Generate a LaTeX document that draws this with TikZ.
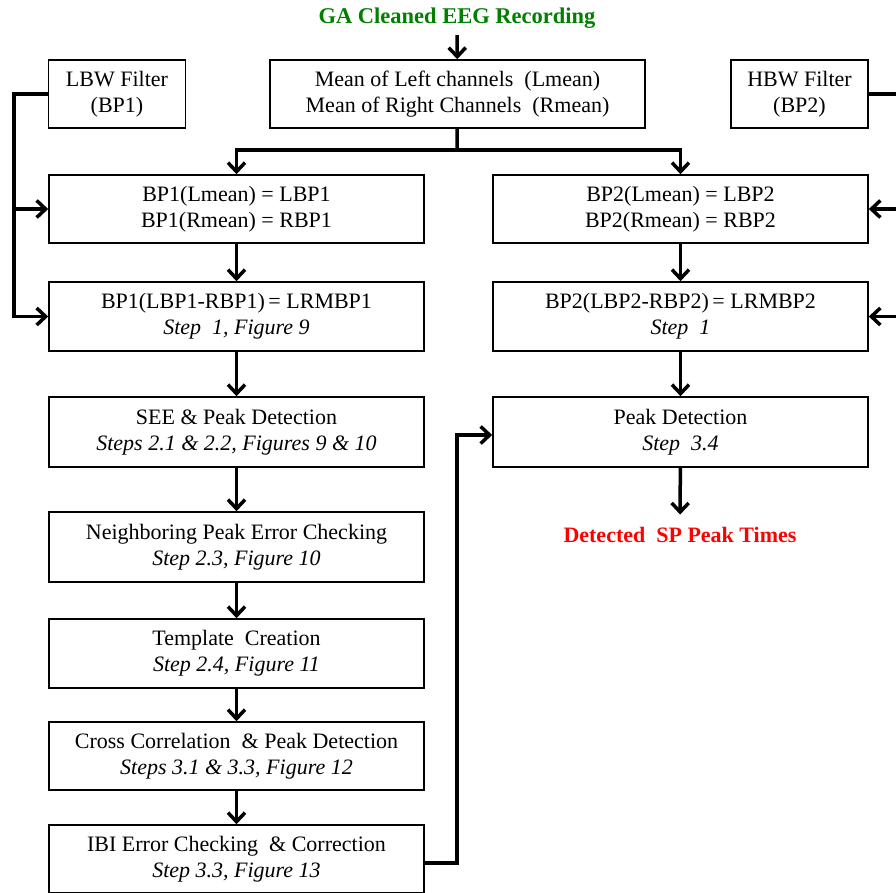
\documentclass[tikz,border=0pt]{standalone}
\usepackage{fontspec}
\setmainfont{Liberation Serif}
\usetikzlibrary{arrows.meta}
\definecolor{titlegreen}{RGB}{0,128,0}
\definecolor{resultred}{RGB}{255,0,0}
\begin{document}
\begin{tikzpicture}[x=1pt,y=-1pt,
  box/.style={draw, line width=1.6pt, minimum width=375pt, minimum height=68pt,
    align=center, inner sep=0pt, font=\fontsize{22}{26}\selectfont},
  filterbox/.style={box, minimum width=137pt},
  conn/.style={line width=3.5pt, -{Straight Barb[length=9pt,width=17pt]}},
  plain/.style={line width=3.5pt},
  label/.style={font=\fontsize{22.5}{26}\selectfont\bfseries, inner xsep=2pt, inner ysep=7pt}]
\useasboundingbox (0,0) rectangle (896,892);
\clip (0,0) rectangle (896,892);

% title and result
\node[label, text=titlegreen, anchor=base] (title) at (457,23) {GA Cleaned EEG Recording};
\node[label, text=resultred, anchor=base, inner ysep=12pt, font=\fontsize{22}{26}\selectfont\bfseries] (detected) at (680,542) {Detected\ \ SP Peak Times};

% top row
\node[filterbox] (lbw) at (117,94) {LBW Filter\\(BP1)};
\node[box] (mean) at (457.5,94) {Mean of Left channels\ \ (Lmean)\\Mean of Right Channels\ \ (Rmean)};
\node[filterbox] (hbw) at (799.5,94) {HBW Filter\\(BP2)};

% left column
\node[box] (bp1a) at (236.5,209) {BP1(Lmean) = LBP1\\BP1(Rmean) = RBP1};
\node[box, minimum height=69pt] (bp1b) at (236.5,316.5) {BP1(LBP1-RBP1)\,= LRMBP1\\\textit{Step\ \ 1, Figure 9}};
\node[box, minimum height=70pt] (see) at (236.5,432) {SEE \& Peak Detection\\\textit{Steps 2.1 \& 2.2, Figures 9 \& 10}};
\node[box, minimum height=70pt] (nbr) at (236.5,547) {Neighboring Peak Error Checking\\\textit{Step 2.3, Figure 10}};
\node[box, minimum height=69pt] (tmpl) at (236.5,653.5) {Template\ \ Creation\\\textit{Step 2.4, Figure 11}};
\node[box] (cross) at (236.5,756) {Cross Correlation\ \ \& Peak Detection\\\textit{Steps 3.1 \& 3.3, Figure 12}};
\node[box] (ibi) at (236.5,859) {IBI Error Checking\ \ \& Correction\\\textit{Step 3.3, Figure 13}};

% right column
\node[box] (bp2a) at (680.5,209) {BP2(Lmean) = LBP2\\BP2(Rmean) = RBP2};
\node[box, minimum height=69pt] (bp2b) at (680.5,316.5) {BP2(LBP2-RBP2)\,= LRMBP2\\\textit{Step\ \ 1}};
\node[box, minimum height=70pt] (peak) at (680.5,432) {Peak Detection\\\textit{Step\ \ 3.4}};

% helper coordinates
\coordinate (branch) at (457,150);
\coordinate (lcorner) at (14,94);
\coordinate (rcorner) at (912,94);
\coordinate (ibivert) at (457,0);

% connectors
\draw[conn] (title) -- (mean);
\draw[plain] (mean) -- (branch);
\draw[conn] (branch) -| (bp1a);
\draw[conn] (branch) -| (bp2a);

\draw[conn] (lbw.west) -- (lcorner) |- (bp1b.west);
\draw[conn] (lcorner |- bp1a) -- (bp1a.west);
\draw[conn] (hbw.east) -- (rcorner) |- (bp2b.east);
\draw[conn] (rcorner |- bp2a) -- (bp2a.east);

\draw[conn] (bp1a) -- (bp1b);
\draw[conn] (bp1b) -- (see);
\draw[conn] (see) -- (nbr);
\draw[conn] (nbr) -- (tmpl);
\draw[conn] (tmpl) -- (cross);
\draw[conn] (cross) -- (ibi);

\draw[conn] (bp2a) -- (bp2b);
\draw[conn] (bp2b) -- (peak);
\draw[conn] (peak) -- (detected);

\draw[conn] ([yshift=-4pt]ibi.east) -- ([yshift=-4pt]ibi.east -| ibivert) |- ([yshift=-3pt]peak.west);
\end{tikzpicture}
\end{document}
